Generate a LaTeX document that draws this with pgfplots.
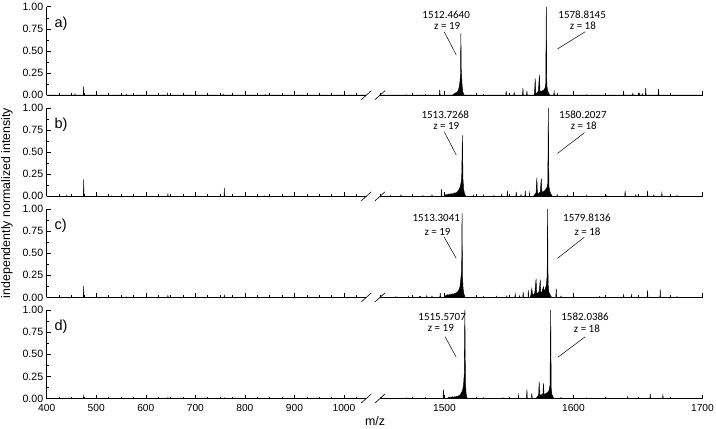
\documentclass[border=0pt]{standalone}
\usepackage{pgfplots}
\usepackage{pgfplotstable}
\usepackage{fontspec}
\setmainfont{Liberation Sans}
\newfontfamily\calfont{Carlito}
\pgfplotsset{compat=1.18}

\pgfplotstableread[row sep=\\]{x y\\
400 0\\ 456.5 0\\ 457 0.012\\ 457.5 0\\ 473.5 0\\ 474 0.02\\ 474.6 0.10\\ 475.2 0.02\\ 476 0\\
560.5 0\\ 561 0.008\\ 561.5 0\\ 643.5 0\\ 644 0.02\\ 644.5 0\\ 700.5 0\\ 701 0.008\\ 701.5 0\\
755.5 0\\ 756 0.012\\ 756.5 0\\ 840.5 0\\ 841 0.006\\ 841.5 0\\ 1045 0\\
1450 0\\ 1470 0\\ 1470.3 0.006\\ 1470.6 0\\ 1485 0\\ 1485.3 0.008\\ 1485.6 0\\
1496 0\\ 1496.3 0.06\\ 1496.6 0\\ 1506 0\\ 1507 0.01\\ 1508 0.02\\ 1509 0.03\\ 1509.5 0.02\\
1510 0.04\\ 1510.5 0.05\\ 1511 0.07\\ 1511.5 0.1\\ 1512 0.16\\ 1512.4 0.24\\ 1512.7 0.70\\
1513 0.28\\ 1513.3 0.2\\ 1513.7 0.1\\ 1514.2 0.04\\ 1514.8 0.01\\ 1515.5 0\\
1530 0\\ 1530.3 0.008\\ 1530.6 0\\ 1547.5 0\\ 1547.8 0.05\\ 1548.1 0\\ 1553.7 0\\ 1554 0.03\\ 1554.3 0\\
1560.5 0\\ 1560.8 0.08\\ 1561.1 0\\ 1563.6 0\\ 1563.9 0.05\\ 1564.2 0\\
1569.3 0\\ 1569.8 0.02\\ 1570.3 0.19\\ 1570.7 0.03\\ 1571.3 0.02\\ 1572 0.03\\ 1572.8 0.05\\
1573.6 0.23\\ 1574 0.05\\ 1575 0.04\\ 1576 0.05\\ 1577 0.06\\ 1578 0.08\\ 1578.5 0.13\\
1578.9 1.0\\ 1579.3 0.11\\ 1579.8 0.06\\ 1580.5 0.03\\ 1581.5 0\\
1584.7 0\\ 1585 0.04\\ 1585.3 0\\ 1587.2 0\\ 1587.5 0.02\\ 1587.8 0\\ 1610 0\\ 1610.3 0.006\\ 1610.6 0\\
1638.5 0\\ 1638.8 0.05\\ 1639.1 0\\ 1645.7 0\\ 1646 0.02\\ 1646.3 0\\ 1650.7 0\\ 1651 0.02\\ 1651.3 0\\
1653 0\\ 1653.3 0.015\\ 1653.6 0\\ 1655.7 0\\ 1656 0.08\\ 1656.3 0\\ 1665.6 0\\ 1665.9 0.07\\ 1666.2 0\\
1700 0\\
}\tabA

\pgfplotstableread[row sep=\\]{x y\\
400 0\\ 440 0\\ 440.5 0.01\\ 441 0\\ 474 0\\ 474.6 0.19\\ 475.2 0\\ 530 0\\ 530.5 0.006\\ 531 0\\
644 0\\ 644.6 0.025\\ 645.2 0\\ 700 0\\ 700.5 0.008\\ 701 0\\ 758 0\\ 758.5 0.095\\ 759 0\\
840 0\\ 840.5 0.006\\ 841 0\\ 1045 0\\
1450 0\\ 1458 0\\ 1458.3 0.01\\ 1458.6 0\\ 1466 0\\ 1466.3 0.015\\ 1466.6 0\\ 1475 0\\ 1475.3 0.012\\ 1475.6 0\\
1483 0\\ 1483.3 0.01\\ 1483.6 0\\ 1490 0\\ 1490.3 0.015\\ 1490.6 0\\ 1497.4 0\\ 1497.7 0.08\\ 1498 0\\
1500 0\\ 1501 0.02\\ 1502 0.015\\ 1503 0.025\\ 1504 0.02\\ 1505 0.03\\ 1506 0.025\\ 1507 0.03\\
1508 0.04\\ 1509 0.035\\ 1510 0.05\\ 1511 0.07\\ 1512 0.1\\ 1512.8 0.15\\ 1513.3 0.2\\ 1513.9 0.69\\
1514.3 0.2\\ 1514.8 0.08\\ 1515.5 0.03\\ 1516.5 0\\
1522 0\\ 1522.3 0.012\\ 1522.6 0\\ 1530 0\\ 1530.3 0.015\\ 1530.6 0\\ 1538 0\\ 1538.3 0.01\\ 1538.6 0\\
1544 0\\ 1544.3 0.02\\ 1544.6 0\\ 1548.5 0\\ 1548.8 0.06\\ 1549.1 0\\ 1555.3 0\\ 1555.6 0.05\\ 1555.9 0\\
1559 0\\ 1559.3 0.02\\ 1559.6 0\\ 1562.3 0\\ 1562.6 0.06\\ 1562.9 0\\ 1565.6 0\\ 1565.9 0.04\\ 1566.2 0\\
1569 0\\ 1570 0.02\\ 1571 0.04\\ 1571.6 0.21\\ 1572 0.04\\ 1573 0.03\\ 1574.3 0.05\\ 1575 0.20\\
1575.5 0.05\\ 1576.5 0.05\\ 1577.5 0.06\\ 1578.5 0.08\\ 1579.5 0.1\\ 1580.1 0.15\\ 1580.5 1.0\\
1580.9 0.12\\ 1581.5 0.06\\ 1582.3 0.03\\ 1583.5 0\\
1587 0\\ 1587.3 0.02\\ 1587.6 0\\ 1595 0\\ 1595.3 0.012\\ 1595.6 0\\ 1610 0\\ 1610.3 0.012\\ 1610.6 0\\
1625 0\\ 1625.3 0.01\\ 1625.6 0\\ 1639.7 0\\ 1640 0.06\\ 1640.3 0\\ 1648 0\\ 1648.3 0.015\\ 1648.6 0\\
1657.1 0\\ 1657.4 0.06\\ 1657.7 0\\ 1662 0\\ 1662.3 0.015\\ 1662.6 0\\ 1668.2 0\\ 1668.5 0.04\\ 1668.8 0\\
1680 0\\ 1680.3 0.01\\ 1680.6 0\\ 1700 0\\
}\tabB

\pgfplotstableread[row sep=\\]{x y\\
400 0\\ 474 0\\ 474.6 0.13\\ 475.2 0\\ 560 0\\ 560.5 0.006\\ 561 0\\ 644 0\\ 644.6 0.02\\ 645.2 0\\
758 0\\ 758.5 0.03\\ 759 0\\ 900 0\\ 900.5 0.006\\ 901 0\\ 1045 0\\
1450 0\\ 1462 0\\ 1462.3 0.01\\ 1462.6 0\\ 1472 0\\ 1472.3 0.012\\ 1472.6 0\\ 1480 0\\ 1481 0.015\\ 1482 0\\
1486 0\\ 1486.3 0.02\\ 1486.6 0\\ 1490 0\\ 1490.3 0.015\\ 1490.6 0\\ 1496.4 0\\ 1496.7 0.05\\ 1497 0\\
1500 0\\ 1501 0.02\\ 1502 0.03\\ 1503 0.025\\ 1504 0.035\\ 1505 0.03\\ 1506 0.04\\ 1507 0.035\\
1508 0.045\\ 1509 0.05\\ 1510 0.06\\ 1511 0.08\\ 1512 0.12\\ 1512.8 0.23\\ 1513.3 0.3\\ 1513.6 0.95\\
1513.9 0.25\\ 1514.4 0.1\\ 1515 0.04\\ 1516 0\\
1530 0\\ 1530.3 0.01\\ 1530.6 0\\ 1540 0\\ 1540.3 0.012\\ 1540.6 0\\ 1548 0\\ 1548.3 0.015\\ 1548.6 0\\
1554.5 0\\ 1554.8 0.04\\ 1555.1 0\\ 1558 0\\ 1558.3 0.02\\ 1558.6 0\\ 1560.7 0\\ 1561 0.06\\ 1561.3 0\\
1564.7 0\\ 1565 0.08\\ 1565.3 0\\ 1566.5 0\\ 1567 0.03\\ 1567.7 0.1\\ 1568.2 0.03\\ 1569 0.03\\
1570 0.05\\ 1571 0.21\\ 1571.4 0.05\\ 1572.5 0.05\\ 1573.5 0.07\\ 1574.2 0.20\\ 1574.6 0.06\\
1575.5 0.06\\ 1576.7 0.12\\ 1577.2 0.07\\ 1578 0.09\\ 1579 0.14\\ 1579.6 0.25\\ 1579.9 1.0\\
1580.3 0.15\\ 1580.9 0.06\\ 1581.8 0.03\\ 1583 0\\ 1586.3 0\\ 1586.6 0.10\\ 1586.9 0\\
1590 0\\ 1590.3 0.015\\ 1590.6 0\\ 1600 0\\ 1600.3 0.01\\ 1600.6 0\\ 1620 0\\ 1620.3 0.01\\ 1620.6 0\\
1638.5 0\\ 1638.8 0.03\\ 1639.1 0\\ 1644.7 0\\ 1645 0.03\\ 1645.3 0\\ 1650 0\\ 1650.3 0.02\\ 1650.6 0\\
1657.1 0\\ 1657.4 0.08\\ 1657.7 0\\ 1667 0\\ 1667.2 0.09\\ 1667.5 0\\ 1680 0\\ 1680.3 0.01\\ 1680.6 0\\
1700 0\\
}\tabC

\pgfplotstableread[row sep=\\]{x y\\
400 0\\ 474 0\\ 474.6 0.03\\ 475.2 0\\ 644 0\\ 644.6 0.012\\ 645.2 0\\ 758 0\\ 758.5 0.008\\ 759 0\\
1045 0\\
1450 0\\ 1470 0\\ 1470.3 0.008\\ 1470.6 0\\ 1485 0\\ 1485.3 0.01\\ 1485.6 0\\ 1498.9 0\\ 1499.2 0.10\\ 1499.5 0\\
1502 0\\ 1503 0.01\\ 1504 0.015\\ 1505 0.01\\ 1506 0.02\\ 1507 0.015\\ 1508 0.02\\ 1509 0.02\\
1510 0.025\\ 1511 0.03\\ 1512 0.04\\ 1513 0.06\\ 1514 0.09\\ 1514.8 0.16\\ 1515.3 0.27\\ 1515.8 1.0\\
1516.2 0.2\\ 1516.7 0.06\\ 1517.3 0.01\\ 1518 0\\
1530 0\\ 1530.3 0.01\\ 1530.6 0\\ 1545 0\\ 1545.3 0.01\\ 1545.6 0\\ 1557.1 0\\ 1557.4 0.04\\ 1557.7 0\\
1563.6 0\\ 1563.9 0.10\\ 1564.2 0\\ 1567.4 0\\ 1567.7 0.06\\ 1568 0\\
1571 0\\ 1572 0.02\\ 1573 0.04\\ 1573.4 0.19\\ 1573.8 0.04\\ 1575 0.04\\ 1576.3 0.05\\ 1576.7 0.17\\
1577.1 0.05\\ 1578 0.05\\ 1579 0.06\\ 1580 0.07\\ 1581 0.09\\ 1581.8 0.15\\ 1582.3 1.0\\ 1582.7 0.12\\
1583.2 0.05\\ 1584 0.02\\ 1585 0\\ 1590 0\\ 1590.3 0.012\\ 1590.6 0\\ 1610 0\\ 1610.3 0.008\\ 1610.6 0\\
1625 0\\ 1625.3 0.008\\ 1625.6 0\\ 1641.7 0\\ 1642 0.02\\ 1642.3 0\\ 1659.2 0\\ 1659.5 0.05\\ 1659.8 0\\
1669 0\\ 1669.3 0.04\\ 1669.6 0\\ 1700 0\\
}\tabD

\pgfplotsset{
  spec/.style={black, line width=0.45pt, fill=black},
  common/.style={scale only axis, height=88.4pt, ymin=0, ymax=1, clip=false,
    axis line style={line width=0.8pt,-}, tick align=inside,
    major tick length=4pt, minor tick length=2pt,
    every tick/.style={black, line width=0.6pt},
    xticklabel style={font=\fontsize{10.2}{11}\selectfont, yshift=-2pt},
    yticklabel style={font=\fontsize{10.6}{11}\selectfont},
    /pgf/number format/assume math mode=true,
    /pgf/number format/1000 sep={}},
  panelL/.style={common, width=319.6pt, xmin=400, xmax=1045,
    axis x line*=bottom, axis y line*=left,
    xtick={400,500,...,1000}, minor xtick={425,450,...,1025},
    ytick={0,0.25,0.5,0.75,1}, minor ytick={0.125,0.375,0.625,0.875},
    yticklabel style={/pgf/number format/.cd, fixed, fixed zerofill, precision=2}},
  panelR/.style={common, width=322.5pt, xmin=1450, xmax=1700,
    axis x line*=bottom, axis y line=none, ytick=\empty,
    xtick={1500,1600,1700}, minor xtick={1450,1475,...,1700}},
}
\tikzset{
  ann/.style={font=\calfont\fontsize{11}{11}\selectfont, inner sep=0pt},
  annline/.style={black, line width=0.5pt},
  plab/.style={anchor=west, inner sep=0pt, font=\fontsize{14.5}{14.5}\selectfont},
}
\newcommand{\brk}[1]{\draw[line width=0.6pt] ([xshift=-5pt,yshift=-4.5pt]axis cs:#1,0) -- ([xshift=5pt,yshift=4.5pt]axis cs:#1,0);}

\begin{document}
\begin{tikzpicture}
\useasboundingbox (0,0) rectangle (716pt,429pt);

% ---- panel a
\begin{axis}[panelL, at={(46.7pt,333.8pt)}, anchor=south west, xticklabels={}]
\addplot[spec, restrict x to domain=400:1045] table {\tabA} \closedcycle;
\node[plab] at (axis cs:415.5,0.81) {a)};
\brk{1045}
\end{axis}
\begin{axis}[panelR, at={(380pt,333.8pt)}, anchor=south west, xticklabels={}]
\addplot[spec, restrict x to domain=1450:1700] table {\tabA} \closedcycle;
\node[ann] at (axis cs:1501.3,0.907) {1512.4640};
\node[ann] at (axis cs:1502.1,0.783) {z = 19};
\draw[annline] (axis cs:1499.8,0.718) -- (axis cs:1509.1,0.455);
\node[ann] at (axis cs:1606.7,0.907) {1578.8145};
\node[ann] at (axis cs:1607.3,0.783) {z = 18};
\draw[annline] (axis cs:1609.1,0.718) -- (axis cs:1587.6,0.523);
\brk{1450}
\end{axis}

% ---- panel b
\begin{axis}[panelL, at={(46.7pt,232.7pt)}, anchor=south west, xticklabels={}]
\addplot[spec, restrict x to domain=400:1045] table {\tabB} \closedcycle;
\node[plab] at (axis cs:415.5,0.81) {b)};
\brk{1045}
\end{axis}
\begin{axis}[panelR, at={(380pt,232.7pt)}, anchor=south west, xticklabels={}]
\addplot[spec, restrict x to domain=1450:1700] table {\tabB} \closedcycle;
\node[ann] at (axis cs:1500.6,0.92) {1513.7268};
\node[ann] at (axis cs:1501.4,0.795) {z = 19};
\draw[annline] (axis cs:1499.8,0.731) -- (axis cs:1509.1,0.467);
\node[ann] at (axis cs:1607.3,0.92) {1580.2027};
\node[ann] at (axis cs:1608.0,0.795) {z = 18};
\draw[annline] (axis cs:1608.5,0.72) -- (axis cs:1587.6,0.485);
\brk{1450}
\end{axis}

% ---- panel c
\begin{axis}[panelL, at={(46.7pt,131.6pt)}, anchor=south west, xticklabels={}]
\addplot[spec, restrict x to domain=400:1045] table {\tabC} \closedcycle;
\node[plab] at (axis cs:415.5,0.81) {c)};
\brk{1045}
\end{axis}
\begin{axis}[panelR, at={(380pt,131.6pt)}, anchor=south west, xticklabels={}]
\addplot[spec, restrict x to domain=1450:1700] table {\tabC} \closedcycle;
\node[ann] at (axis cs:1493.6,0.895) {1513.3041};
\node[ann] at (axis cs:1494.6,0.743) {z = 19};
\draw[annline] (axis cs:1499.8,0.68) -- (axis cs:1509.1,0.442);
\node[ann] at (axis cs:1610.4,0.895) {1579.8136};
\node[ann] at (axis cs:1610.9,0.743) {z = 18};
\draw[annline] (axis cs:1608.3,0.68) -- (axis cs:1587.6,0.442);
\brk{1450}
\end{axis}

% ---- panel d
\begin{axis}[panelL, at={(46.7pt,30.5pt)}, anchor=south west]
\addplot[spec, restrict x to domain=400:1045] table {\tabD} \closedcycle;
\node[plab] at (axis cs:415.5,0.81) {d)};
\brk{1045}
\end{axis}
\begin{axis}[panelR, at={(380pt,30.5pt)}, anchor=south west]
\addplot[spec, restrict x to domain=1450:1700] table {\tabD} \closedcycle;
\node[ann] at (axis cs:1498.2,0.925) {1515.5707};
\node[ann] at (axis cs:1497.2,0.794) {z = 19};
\draw[annline] (axis cs:1500.5,0.699) -- (axis cs:1509.1,0.466);
\node[ann] at (axis cs:1609.0,0.925) {1582.0386};
\node[ann] at (axis cs:1610.4,0.794) {z = 18};
\draw[annline] (axis cs:1609.1,0.699) -- (axis cs:1587.8,0.466);
\brk{1450}
\end{axis}

\node[rotate=90, font=\fontsize{12.4}{13}\selectfont] at (7pt,226pt) {independently normalized intensity};
\node[font=\fontsize{12.4}{13}\selectfont] at (375pt,8pt) {m/z};
\end{tikzpicture}
\end{document}
